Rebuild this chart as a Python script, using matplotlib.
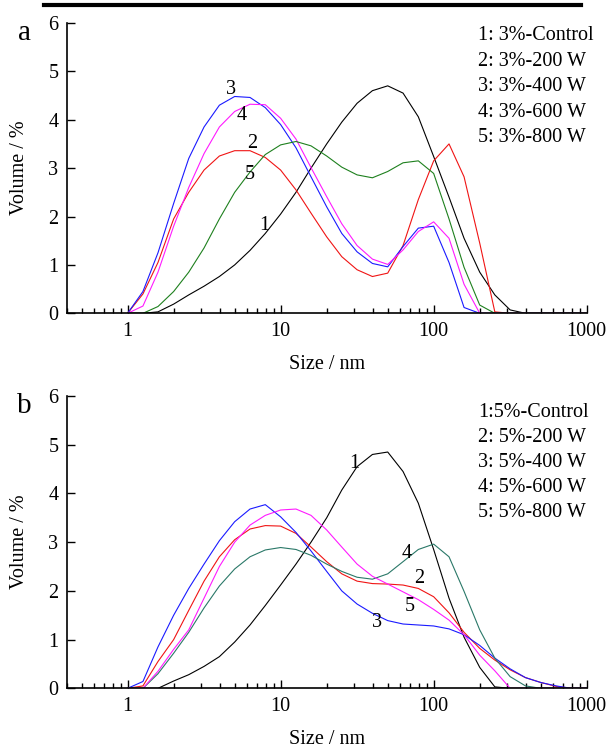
import matplotlib
matplotlib.use("Agg")
import matplotlib.pyplot as plt
from matplotlib.lines import Line2D
from matplotlib.ticker import LogLocator, NullFormatter, FixedLocator, FixedFormatter

plt.rcParams['font.family'] = ['Liberation Serif', 'DejaVu Serif']

# particle size bins (nm), shared by all curves
size_nm = [1.0, 1.26, 1.58, 2.0, 2.51, 3.16, 3.98, 5.01, 6.31, 7.94,
           10, 12.6, 15.8, 20.0, 25.1, 31.6, 39.8, 50.1, 63.1, 79.4,
           100, 126, 158, 200, 251, 316, 398, 501, 631, 794, 1000]

# panel a: 3% samples, volume %
a_control = [0, 0, 0.03, 0.19, 0.38, 0.56, 0.76, 1.0, 1.3, 1.65,
             2.05, 2.5, 3.0, 3.5, 3.95, 4.34, 4.6, 4.70, 4.55, 4.06,
             3.24, 2.4, 1.55, 0.85, 0.38, 0.07, 0, 0, 0, 0, 0]
a_200w = [0, 0.4, 1.05, 1.95, 2.5, 2.96, 3.25, 3.36, 3.36, 3.22,
          2.96, 2.55, 2.07, 1.58, 1.17, 0.9, 0.76, 0.83, 1.4, 2.35,
          3.15, 3.5, 2.82, 1.45, 0.03, 0, 0, 0, 0, 0, 0]
a_400w = [0, 0.45, 1.25, 2.27, 3.2, 3.85, 4.3, 4.48, 4.46, 4.25,
          3.9, 3.42, 2.82, 2.2, 1.65, 1.27, 1.03, 0.96, 1.38, 1.76,
          1.8, 1.05, 0.12, 0, 0, 0, 0, 0, 0, 0, 0]
a_600w = [0, 0.15, 0.85, 1.8, 2.6, 3.3, 3.85, 4.17, 4.32, 4.31,
          4.03, 3.6, 3.01, 2.41, 1.85, 1.4, 1.12, 1.01, 1.31, 1.69,
          1.89, 1.55, 0.6, 0, 0, 0, 0, 0, 0, 0, 0]
a_800w = [0, 0, 0.14, 0.45, 0.85, 1.35, 1.95, 2.5, 2.92, 3.28,
          3.48, 3.55, 3.46, 3.25, 3.02, 2.86, 2.80, 2.93, 3.11, 3.15,
          2.89, 1.95, 0.95, 0.17, 0, 0, 0, 0, 0, 0, 0]

# panel b: 5% samples, volume %
b_control = [0, 0, 0, 0.15, 0.28, 0.45, 0.65, 0.95, 1.3, 1.7,
             2.12, 2.55, 3.0, 3.5, 4.07, 4.55, 4.8, 4.85, 4.45, 3.8,
             2.85, 1.85, 1.05, 0.43, 0.03, 0, 0, 0, 0, 0, 0]
b_200w = [0, 0.05, 0.55, 1.0, 1.6, 2.2, 2.7, 3.05, 3.27, 3.34,
          3.33, 3.18, 2.9, 2.6, 2.35, 2.2, 2.15, 2.14, 2.12, 2.05,
          1.88, 1.55, 1.15, 0.82, 0.58, 0.38, 0.22, 0.12, 0.04, 0, 0]
b_400w = [0, 0.14, 0.85, 1.5, 2.05, 2.55, 3.03, 3.42, 3.68, 3.77,
          3.52, 3.2, 2.82, 2.4, 2.0, 1.73, 1.54, 1.39, 1.32, 1.3,
          1.28, 1.22, 1.1, 0.88, 0.62, 0.4, 0.22, 0.12, 0.05, 0, 0]
b_600w = [0, 0, 0.3, 0.72, 1.15, 1.65, 2.1, 2.45, 2.7, 2.84,
          2.89, 2.85, 2.73, 2.55, 2.4, 2.28, 2.24, 2.35, 2.6, 2.85,
          2.96, 2.7, 1.99, 1.2, 0.62, 0.24, 0.05, 0, 0, 0, 0]
b_800w = [0, 0, 0.35, 0.8, 1.2, 1.85, 2.5, 3.0, 3.35, 3.55,
          3.66, 3.68, 3.55, 3.25, 2.9, 2.55, 2.3, 2.14, 1.98, 1.82,
          1.62, 1.4, 1.1, 0.68, 0.36, 0, 0, 0, 0, 0, 0]

labels_a = ['1: 3%-Control', '2: 3%-200 W', '3: 3%-400 W', '4: 3%-600 W', '5: 3%-800 W']
labels_b = ['1:5%-Control', '2: 5%-200 W', '3: 5%-400 W', '4: 5%-600 W', '5: 5%-800 W']

colors_a = ['black', '#f01414', '#1a1aff', '#ff1aff', '#1e801e']
colors_b = ['black', '#f01414', '#1a1aff', '#2a7868', '#ff1aff']

# curve number tags: (text, size nm, volume %)
tags_a = [('3', 4.75, 4.63), ('4', 5.53, 4.08), ('2', 6.53, 3.51), ('5', 6.27, 2.87), ('1', 7.85, 1.82)]
tags_b = [('1', 30.5, 4.62), ('4', 66.5, 2.77), ('2', 80.1, 2.26), ('5', 70.0, 1.68), ('3', 42.4, 1.35)]

fs = 14.5


def draw_panel(ax, series, colors, labels, tags, letter, leg_top, leg_step):
    for vals, c in zip(series, colors):
        ax.plot(size_nm, vals, color=c, lw=0.8)
    ax.set_xscale('log')
    ax.set_xlim(0.4, 1000)
    ax.set_ylim(0, 6)
    ax.spines['top'].set_visible(False)
    ax.spines['right'].set_visible(False)
    for s in ['left', 'bottom']:
        ax.spines[s].set_linewidth(1.2)
    ax.xaxis.set_major_locator(FixedLocator([1, 10, 100, 1000]))
    ax.xaxis.set_major_formatter(FixedFormatter(['1', '10', '100', '1000']))
    ax.xaxis.set_minor_locator(LogLocator(base=10, subs=[2, 3, 4, 5, 6, 7, 8, 9], numticks=20))
    ax.xaxis.set_minor_formatter(NullFormatter())
    ax.set_yticks([0, 1, 2, 3, 4, 5, 6])
    ax.tick_params(axis='both', which='major', direction='in', length=5.5, width=1,
                   labelsize=fs, pad=6)
    ax.tick_params(axis='x', which='minor', direction='in', length=3.5, width=1)
    ax.set_xlabel('Size / nm', fontsize=fs, labelpad=10)
    ax.set_ylabel('Volume / %', fontsize=fs, labelpad=14)
    for t, x, y in tags:
        ax.text(x, y, t, fontsize=fs, ha='center', va='center')
    for i, lab in enumerate(labels):
        ax.text(0.791, leg_top - i * leg_step, lab, transform=ax.transAxes,
                fontsize=fs, ha='left', va='center')
    ax.text(-0.082, 0.965, letter, transform=ax.transAxes, fontsize=21,
            ha='center', va='center')


fig = plt.figure(figsize=(6.1, 7.49), dpi=100)
ax_a = fig.add_axes([0.1093, 0.5817, 0.8525, 0.3877])
ax_b = fig.add_axes([0.1093, 0.0810, 0.8525, 0.3903])

draw_panel(ax_a, [a_control, a_200w, a_400w, a_600w, a_800w], colors_a, labels_a,
           tags_a, 'a', 0.955, 0.0875)
draw_panel(ax_b, [b_control, b_200w, b_400w, b_600w, b_800w], colors_b, labels_b,
           tags_b, 'b', 0.943, 0.0855)

# thick rule along the top
fig.add_artist(Line2D([0.072, 0.952], [0.9933, 0.9933], color='black', lw=3,
                      transform=fig.transFigure))

fig.savefig('out.png', dpi=100)
